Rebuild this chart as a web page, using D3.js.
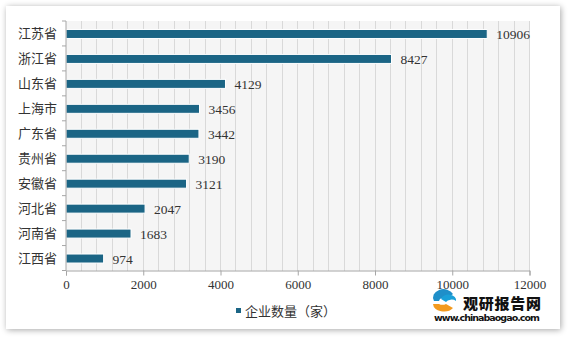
<!DOCTYPE html>
<html><head><meta charset="utf-8">
<script src="https://cdn.jsdelivr.net/npm/d3@7"></script>
<style>
html,body{margin:0;padding:0;background:#fff;}
svg{display:block;}
</style></head>
<body>
<svg id="c" width="571" height="337"></svg>
<script>
const categories = ["江苏省","浙江省","山东省","上海市","广东省","贵州省","安徽省","河北省","河南省","江西省"];
const values = [10906, 8427, 4129, 3456, 3442, 3190, 3121, 2047, 1683, 974];
const xTicks = [0, 2000, 4000, 6000, 8000, 10000, 12000];
const seriesName = "企业数量（家）";

const svg = d3.select("#c");
const defs = svg.append("defs");
const f = defs.append("filter").attr("id","sh").attr("x","-5%").attr("y","-5%").attr("width","110%").attr("height","110%");
f.append("feGaussianBlur").attr("in","SourceAlpha").attr("stdDeviation",3);
f.append("feOffset").attr("dx",1).attr("dy",1).attr("result","b");
f.append("feComponentTransfer").append("feFuncA").attr("type","linear").attr("slope",0.35);
const m = f.append("feMerge"); m.append("feMergeNode"); m.append("feMergeNode").attr("in","SourceGraphic");

svg.append("rect").attr("width",571).attr("height",337).attr("fill","#fff");
svg.append("rect").attr("x",6).attr("y",6).attr("width",554).attr("height",323).attr("fill","#fff").attr("filter","url(#sh)");

const L = 66, R = 529.5, T = 21, B = 270.5;
const x = d3.scaleLinear().domain([0,12000]).range([L,R]);
const y = d3.scaleBand().domain(categories).range([T,B]).paddingInner(0).paddingOuter(0);

svg.append("rect").attr("x",L).attr("y",T).attr("width",R-L).attr("height",B-T).attr("fill","#f5f5f5");
// gridlines
svg.append("g").selectAll("line").data(d3.range(400,12001,400)).join("line")
  .attr("x1",d=>x(d)).attr("x2",d=>x(d)).attr("y1",T).attr("y2",B)
  .attr("stroke","#d9d9d9").attr("stroke-width",1).attr("shape-rendering","crispEdges");

// bars
const bh = 9;
svg.append("g").selectAll("rect").data(values).join("rect")
  .attr("x",x(0)).attr("y",(d,i)=>y(categories[i])+y.bandwidth()/2-bh/2+0.5)
  .attr("width",d=>x(d)-x(0)).attr("height",bh)
  .attr("fill","#1b6585").attr("stroke","#ffffff").attr("stroke-width",1);

// value labels
svg.append("g").selectAll("text").data(values).join("text")
  .attr("x",d=>x(d)+9).attr("y",(d,i)=>y(categories[i])+y.bandwidth()/2+5.5)
  .attr("font-family","'Liberation Serif','DejaVu Serif',serif").attr("font-size",13.5).attr("fill","#333")
  .text(d=>d);

// y axis
const ya = svg.append("g").attr("transform",`translate(${L},0)`);
ya.append("line").attr("x1",0).attr("x2",0).attr("y1",T).attr("y2",B).attr("stroke","#a6a6a6");
ya.selectAll("line.t").data(d3.range(0,11)).join("line").attr("class","t")
  .attr("x1",-4).attr("x2",0).attr("y1",i=>T+i*y.step()).attr("y2",i=>T+i*y.step()).attr("stroke","#a6a6a6");
ya.selectAll("text").data(categories).join("text")
  .attr("x",-9).attr("y",d=>y(d)+y.bandwidth()/2+5)
  .attr("text-anchor","end").attr("font-family","'Noto Sans CJK SC',sans-serif").attr("font-size",13).attr("fill","#333")
  .text(d=>d);

// x axis
const xa = d3.axisBottom(x).tickValues(xTicks).tickSize(5).tickFormat(d=>d);
const xg = svg.append("g").attr("transform",`translate(0,${B})`).call(xa);
xg.select(".domain").attr("stroke","#a6a6a6");
xg.selectAll(".tick line").attr("stroke","#a6a6a6");
xg.selectAll(".tick text").attr("font-family","'Liberation Serif','DejaVu Serif',serif").attr("font-size",13).attr("fill","#333").attr("dy","0.8em");

// legend
svg.append("rect").attr("x",236).attr("y",308).attr("width",5).attr("height",5).attr("fill","#1b6585");
svg.append("text").attr("x",245).attr("y",316).attr("font-family","'Noto Sans CJK SC',sans-serif").attr("font-size",13).attr("fill","#333").text(seriesName);

// watermark logo
const lg = svg.append("g");
lg.append("path").attr("d","M434,301 A10,8 0 0 1 453,294 L448,298 A6,4 0 0 0 439,301 Z").attr("fill","#1f8fc9");
lg.append("path").attr("d","M433,304 A11,8 0 0 0 453,308 L446,304 A6,4 0 0 1 439,304 Z").attr("fill","#f39a1e");
lg.append("path").attr("d","M441,299 A7,5 0 0 1 456,301 A6,4 0 0 0 446,302 Z").attr("fill","#1aa0d8");
lg.append("text").attr("x",463).attr("y",309).attr("font-family","'Noto Sans CJK SC',sans-serif").attr("font-weight",900).attr("font-size",15).attr("fill","#111").attr("textLength",78).text("观研报告网");
lg.append("text").attr("x",434).attr("y",321).attr("font-family","'DejaVu Sans',sans-serif").attr("font-weight","bold").attr("font-size",9.5).attr("fill","#111").attr("textLength",106).text("www.chinabaogao.com");
</script>
</body></html>
